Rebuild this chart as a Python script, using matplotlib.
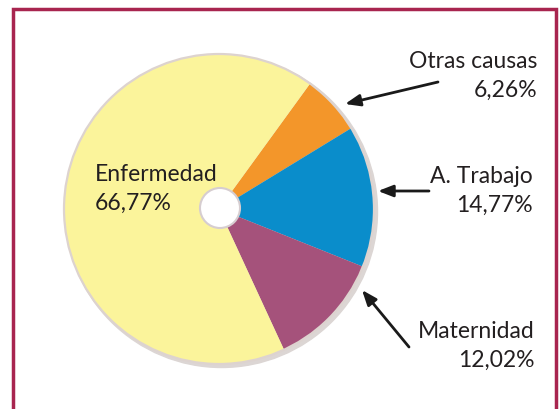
import matplotlib
matplotlib.use("Agg")
import matplotlib.pyplot as plt
from matplotlib.patches import Circle, Rectangle

# data (order: clockwise from the top of the coloured group)
causes = ["Otras causas", "A. Trabajo", "Maternidad", "Enfermedad"]
shares = [6.26, 14.77, 12.02, 66.77]
share_labels = ["6,26%", "14,77%", "12,02%", "66,77%"]
colors = ["#f3962a", "#0a8dcb", "#a5527b", "#fbf49b"]

W, H = 559, 409
fig = plt.figure(figsize=(W / 100, H / 100), dpi=100)
ax = fig.add_axes([0, 0, 1, 1])

cx, cy, r = 219, 200, 155

# soft shadow + rim
ax.add_patch(Circle((cx + 2.5, cy - 2.5), r + 1, color="#dcd6d4", zorder=1))
wedges, _ = ax.pie(shares, colors=colors, startangle=54, counterclock=False,
                   center=(cx, cy), radius=r, frame=True,
                   wedgeprops=dict(linewidth=0, zorder=2))
ax.add_patch(Circle((cx, cy), r, fill=False, ec="#ddd3cf", lw=1.6, zorder=3))
# hole
ax.add_patch(Circle((cx + 1, cy + 1), 20, fc="white", ec="#d6cdd0", lw=1.5, zorder=4))

font = "Lato"
tc = "#231f20"
fs = 16.5
ls = 1.5

ax.text(95, 409 - 189, causes[3] + "\n" + share_labels[3], ha="left", va="center",
        fontsize=fs, family=font, color=tc, linespacing=ls, zorder=5)

label_pos = [(537, 409 - 76), (533, 409 - 191), (535, 409 - 346)]
tails = [(438, 409 - 82), (429, 409 - 191), (409, 409 - 347)]
tips = [(345, 409 - 104), (378, 409 - 191), (362, 409 - 290)]
for i in range(3):
    ax.text(label_pos[i][0], label_pos[i][1], causes[i] + "\n" + share_labels[i],
            ha="right", va="center", fontsize=fs, family=font, color=tc,
            linespacing=ls, zorder=5)
    ax.annotate("", xy=tips[i], xytext=tails[i],
                arrowprops=dict(arrowstyle="-|>,head_length=0.9,head_width=0.35",
                                color="#1a1a1a", lw=2.0, shrinkA=0, shrinkB=0),
                zorder=5)

# frame
ax.add_patch(Rectangle((12.5, -20), 543.5, 409 - 8.5 + 20, fill=False,
                       ec="#a8254f", lw=2.5, zorder=6))

ax.set_xlim(0, W)
ax.set_ylim(0, H)
ax.set_aspect("auto")
ax.axis("off")

fig.savefig("out.png", dpi=100)
